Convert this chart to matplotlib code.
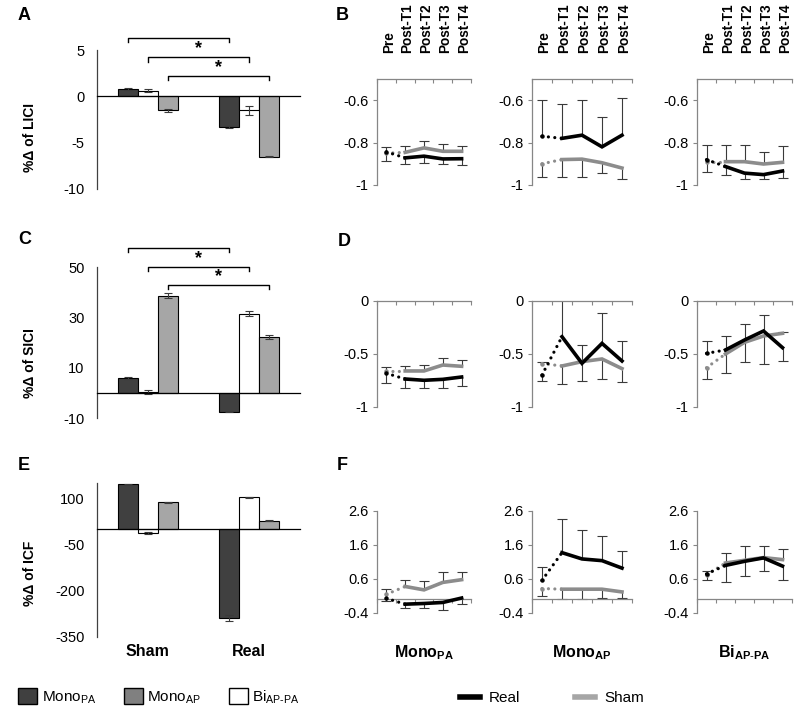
import numpy as np
import matplotlib
matplotlib.use("Agg")
import matplotlib.pyplot as plt
from matplotlib.patches import Patch
from matplotlib.lines import Line2D
from matplotlib import transforms

plt.rcParams['font.family'] = ['Liberation Sans', 'DejaVu Sans']
plt.rcParams['mathtext.fontset'] = 'custom'
plt.rcParams['mathtext.rm'] = 'Liberation Sans'
plt.rcParams['mathtext.bf'] = 'Liberation Sans:bold'
plt.rcParams['mathtext.it'] = 'Liberation Sans:italic'
plt.rcParams['axes.unicode_minus'] = False

# ---- bar panels (Sham, Real) ----
groups = ["Sham", "Real"]
lici_mono_pa = [0.8, -3.3]
lici_bi = [0.6, -1.5]
lici_mono_ap = [-1.5, -6.5]
lici_err_pa = [0.08, 0.08]
lici_err_bi = [0.15, 0.5]
lici_err_ap = [0.15, 0.1]

sici_mono_pa = [5.8, -7.5]
sici_bi = [0.5, 31.5]
sici_mono_ap = [38.5, 22.0]
sici_err_pa = [0.4, 0.3]
sici_err_bi = [0.8, 1.0]
sici_err_ap = [1.0, 0.8]

icf_mono_pa = [146, -289]
icf_bi = [-12, 103]
icf_mono_ap = [87, 28]
icf_err_pa = [2, 10]
icf_err_bi = [3, 3]
icf_err_ap = [2, 2]

lici_brackets = [6.3, 4.2, 2.2]
sici_brackets = [57.5, 50.0, 43.0]

# ---- time course panels: Pre, Post-T1..T4 ----
timepoints = ["Pre", "Post-T1", "Post-T2", "Post-T3", "Post-T4"]

lici_real = {
    "pa": [-0.844, -0.872, -0.864, -0.877, -0.876],
    "ap": [-0.77, -0.78, -0.765, -0.82, -0.765],
    "bi": [-0.88, -0.913, -0.944, -0.951, -0.934],
}
lici_sham = {
    "pa": [-0.85, -0.846, -0.825, -0.841, -0.841],
    "ap": [-0.90, -0.88, -0.878, -0.895, -0.92],
    "bi": [-0.89, -0.89, -0.89, -0.901, -0.893],
}
lici_real_err = {
    "pa": [0.022, 0.027, 0.033, 0.023, 0.032],
    "ap": [0.17, 0.16, 0.165, 0.14, 0.175],
    "bi": [0.07, 0.042, 0.026, 0.019, 0.031],
}
lici_sham_err = {
    "pa": [0.038, 0.029, 0.031, 0.036, 0.024],
    "ap": [0.06, 0.08, 0.082, 0.05, 0.05],
    "bi": [0.05, 0.08, 0.08, 0.056, 0.078],
}

sici_real = {
    "pa": [-0.682, -0.736, -0.748, -0.739, -0.717],
    "ap": [-0.698, -0.337, -0.588, -0.40, -0.566],
    "bi": [-0.494, -0.462, -0.368, -0.283, -0.44],
}
sici_sham = {
    "pa": [-0.66, -0.66, -0.66, -0.604, -0.616],
    "ap": [-0.59, -0.613, -0.572, -0.547, -0.638],
    "bi": [-0.629, -0.50, -0.39, -0.33, -0.305],
}
sici_real_err = {
    "pa": [0.088, 0.088, 0.07, 0.079, 0.088],
    "ap": [0.054, 0.362, 0.167, 0.284, 0.189],
    "bi": [0.12, 0.132, 0.148, 0.151, 0.126],
}
sici_sham_err = {
    "pa": [0.04, 0.05, 0.06, 0.069, 0.063],
    "ap": [0.015, 0.173, 0.157, 0.192, 0.126],
    "bi": [0.11, 0.182, 0.189, 0.264, 0.01],
}

icf_real = {
    "pa": [0.03, -0.14, -0.12, -0.09, 0.04],
    "ap": [0.56, 1.375, 1.19, 1.14, 0.92],
    "bi": [0.75, 1.0, 1.12, 1.22, 0.98],
}
icf_sham = {
    "pa": [0.15, 0.38, 0.28, 0.50, 0.58],
    "ap": [0.32, 0.30, 0.30, 0.30, 0.22],
    "bi": [0.72, 1.07, 1.15, 1.23, 1.17],
}
icf_real_err = {
    "pa": [0.08, 0.12, 0.14, 0.22, 0.18],
    "ap": [0.38, 1.0, 0.84, 0.72, 0.51],
    "bi": [0.10, 0.48, 0.44, 0.38, 0.41],
}
icf_sham_err = {
    "pa": [0.15, 0.20, 0.27, 0.30, 0.22],
    "ap": [0.22, 0.30, 0.30, 0.27, 0.17],
    "bi": [0.15, 0.30, 0.41, 0.33, 0.30],
}

protocol_labels = [r"Mono$_{\mathbf{PA}}$", r"Mono$_{\mathbf{AP}}$", r"Bi$_{\mathbf{AP\text{-}PA}}$"]

DARK = "#404040"
LIGHT = "#a6a6a6"
LEG_GRAY = "#808080"
SHAM_LINE = "#8c8c8c"
SPINE = "#868686"
ECOL = "#3a3a3a"

W, H = 800, 713
fig = plt.figure(figsize=(8, 7.13), dpi=100)


def px_axes(x0, x1, ytop, ybot):
    return fig.add_axes([x0 / W, 1 - ybot / H, (x1 - x0) / W, (ybot - ytop) / H])


def bar_panel(ax, pa, bi, ap, e_pa, e_bi, e_ap, ylim, yticks, brackets=None, drop=0.4):
    x = np.array([0.5, 1.5])
    w = 0.197
    series = [(-w, pa, e_pa, DARK), (0, bi, e_bi, "white"), (w, ap, e_ap, LIGHT)]
    for off, vals, errs, col in series:
        ax.bar(x + off, vals, w, color=col, edgecolor="black", linewidth=0.8,
               yerr=errs, error_kw=dict(ecolor=ECOL, elinewidth=0.8, capsize=3, capthick=0.8),
               zorder=2)
    ax.set_xlim(0, 2)
    ax.set_ylim(*ylim)
    ax.set_yticks(yticks)
    ax.set_xticks([])
    ax.tick_params(axis="y", length=0, labelsize=10.5, pad=9)
    for s in ["top", "right"]:
        ax.spines[s].set_visible(False)
    ax.spines["left"].set_color("#404040")
    ax.spines["left"].set_linewidth(0.9)
    ax.spines["bottom"].set_position(("data", 0))
    ax.spines["bottom"].set_linewidth(0.9)
    ax.spines["bottom"].set_zorder(3)
    ax.patch.set_visible(False)
    if brackets is not None:
        for k, yb in enumerate(brackets):
            off = series[k][0]
            x1, x2 = 0.5 + off, 1.5 + off
            ax.plot([x1, x1, x2, x2], [yb - drop, yb, yb, yb - drop], color="black",
                    lw=1.0, clip_on=False)
            ax.annotate("*", ((x1 + x2) / 2, yb), xytext=(0, 0), textcoords="offset points",
                        ha="center", va="bottom", fontsize=13, fontweight="bold")


def err_marks(ax, x, y, e, direction):
    end = y + direction * e
    keep = e > 0.005
    ax.vlines(x[keep], y[keep], end[keep], color=ECOL, lw=0.8, zorder=2)
    ax.plot(x[keep], end[keep], ls="none", marker="_", ms=7, mew=0.8, color=ECOL, zorder=2)


def line_panel(ax, real, sham, real_err, sham_err, ylim, yticks, yticklabels, top_axis):
    x = np.arange(len(timepoints))
    real = np.array(real)
    sham = np.array(sham)
    real_err = np.array(real_err)
    sham_err = np.array(sham_err)
    real_up = np.where(real >= sham, 1, -1)
    err_marks(ax, x, real, real_err, real_up)
    err_marks(ax, x, sham, sham_err, -real_up)
    for vals, col, z in [(sham, SHAM_LINE, 3), (real, "black", 4)]:
        ax.plot(x[1:], vals[1:], color=col, lw=2.6, solid_joinstyle="miter", zorder=z)
        ax.plot(x[:2], vals[:2], color=col, lw=2.3, ls=(0, (0.01, 2.0)),
                dash_capstyle="round", zorder=z)
        ax.plot(x[:1], vals[:1], "o", ms=2.2, color=col, zorder=z)
    ax.set_xlim(-0.5, 4.5)
    ax.set_ylim(*ylim)
    ax.set_yticks(yticks)
    ax.set_yticklabels(yticklabels)
    ax.set_xticks(np.arange(-0.5, 5, 1.0))
    ax.set_xticklabels([])
    ax.patch.set_visible(False)
    for s in ax.spines.values():
        s.set_color(SPINE)
        s.set_linewidth(0.9)
    ax.spines["right"].set_visible(False)
    ax.tick_params(axis="y", direction="out", length=3, color=SPINE, labelsize=10.5, pad=3)
    if top_axis:
        ax.spines["bottom"].set_visible(False)
        ax.xaxis.tick_top()
        ax.tick_params(axis="x", direction="in", length=3, color=SPINE)
    else:
        ax.spines["top"].set_visible(False)
        ax.spines["bottom"].set_position(("data", 0))
        ax.tick_params(axis="x", direction="out", length=3, color=SPINE)


# bar charts
axA = px_axes(97, 300, 50, 189)
bar_panel(axA, lici_mono_pa, lici_bi, lici_mono_ap, lici_err_pa, lici_err_bi, lici_err_ap,
          (-10, 5), [-10, -5, 0, 5], lici_brackets, drop=0.45)
axC = px_axes(97, 300, 267, 418)
bar_panel(axC, sici_mono_pa, sici_bi, sici_mono_ap, sici_err_pa, sici_err_bi, sici_err_ap,
          (-10, 50), [-10, 10, 30, 50], sici_brackets, drop=1.6)
axE = px_axes(97, 300, 483, 637)
bar_panel(axE, icf_mono_pa, icf_bi, icf_mono_ap, icf_err_pa, icf_err_bi, icf_err_ap,
          (-350, 150), [-350, -200, -50, 100])

for ax, lab, yc in [(axA, "%Δ of LICI", 137), (axC, "%Δ of SICI", 363), (axE, "%Δ of ICF", 573)]:
    fig.text(30 / W, 1 - yc / H, lab, rotation=90, ha="center", va="center",
             fontsize=10, fontweight="bold")

tr = transforms.blended_transform_factory(axE.transData, fig.transFigure)
for xg, g in zip([0.5, 1.5], groups):
    axE.text(xg, 1 - 652 / H, g, transform=tr, ha="center", va="center",
             fontsize=11.5, fontweight="bold")

# time course panels
cols = [(377, 471), (532, 632), (697, 792)]
keys = ["pa", "ap", "bi"]
rows = [
    (79, 185, lici_real, lici_sham, lici_real_err, lici_sham_err, (-1, -0.5),
     [-1, -0.8, -0.6], ["-1", "-0.8", "-0.6"], True),
    (301, 407, sici_real, sici_sham, sici_real_err, sici_sham_err, (-1, 0),
     [-1, -0.5, 0], ["-1", "-0.5", "0"], True),
    (511, 613, icf_real, icf_sham, icf_real_err, icf_sham_err, (-0.4, 2.6),
     [-0.4, 0.6, 1.6, 2.6], ["-0.4", "0.6", "1.6", "2.6"], False),
]
for r, (yt, yb, rd, sd, rerr, serr, ylim, yt_, ytl, top) in enumerate(rows):
    for c, (x0, x1) in enumerate(cols):
        ax = px_axes(x0, x1, yt, yb)
        k = keys[c]
        line_panel(ax, rd[k], sd[k], rerr[k], serr[k], ylim, yt_, ytl, top)
        if r == 0:
            trc = transforms.blended_transform_factory(ax.transData, fig.transFigure)
            for i, lab in enumerate(timepoints):
                ax.text(i + 0.12, 1 - 53 / H, lab, transform=trc, rotation=90, ha="center",
                        va="bottom", fontsize=9.8, fontweight="bold")
        if r == 2:
            fig.text((x0 + x1) / 2 / W, 1 - 653 / H, protocol_labels[c], ha="center",
                     va="center", fontsize=11.5, fontweight="bold")

# panel letters
for lab, xp, yp in [("A", 18, 16), ("B", 336, 15), ("C", 18, 240), ("D", 338, 241),
                    ("E", 18, 466), ("F", 337, 466)]:
    fig.text(xp / W, 1 - yp / H, lab, ha="left", va="center", fontsize=13, fontweight="bold")

# legends
bar_handles = [Patch(facecolor=DARK, edgecolor="black"),
               Patch(facecolor=LEG_GRAY, edgecolor="black"),
               Patch(facecolor="white", edgecolor="black")]
bar_labels = [r"Mono$_{\mathrm{PA}}$", r"Mono$_{\mathrm{AP}}$", r"Bi$_{\mathrm{AP\text{-}PA}}$"]
fig.legend(bar_handles, bar_labels, loc="center left", bbox_to_anchor=(18 / W, 1 - 697 / H),
           ncol=3, frameon=False, fontsize=11, handlelength=1.25, handleheight=1.25,
           handletextpad=0.3, columnspacing=1.8, borderaxespad=0, borderpad=0)

line_handles = [Line2D([], [], color="black", lw=4), Line2D([], [], color="#a6a6a6", lw=4)]
fig.legend(line_handles, ["Real", "Sham"], loc="center left", bbox_to_anchor=(460 / W, 1 - 698 / H),
           ncol=2, frameon=False, fontsize=11, handlelength=1.3, handletextpad=0.6,
           columnspacing=3.6, borderaxespad=0, borderpad=0)

fig.savefig("out.png", dpi=100)
